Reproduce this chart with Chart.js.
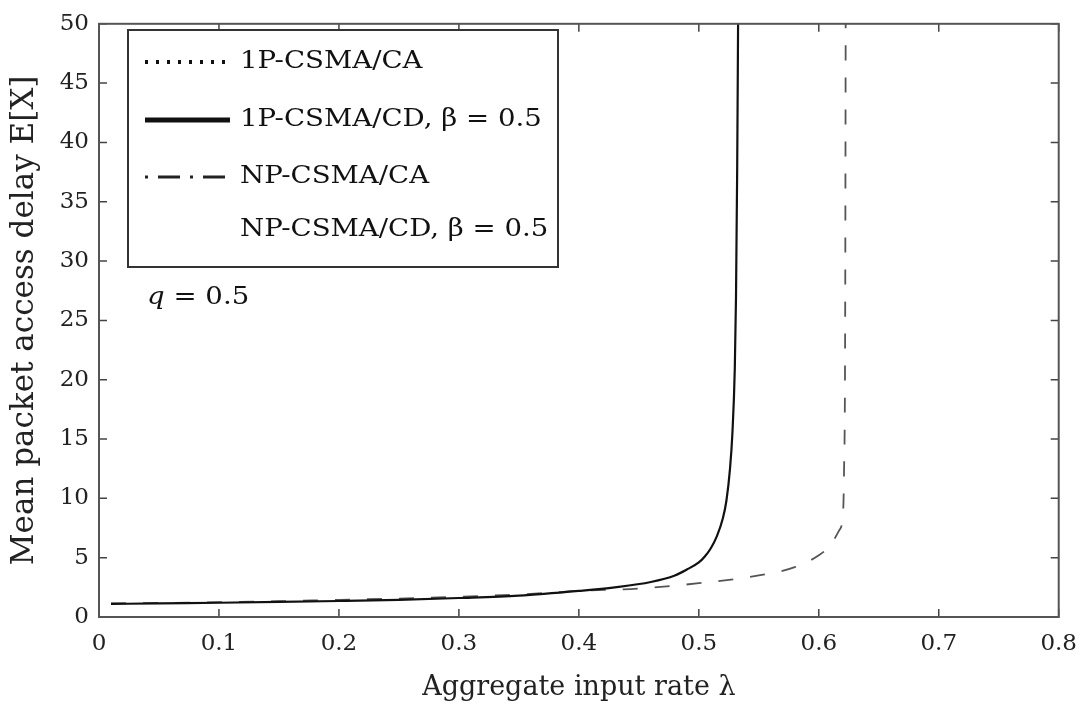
<!DOCTYPE html>
<html>
<head>
<meta charset="utf-8">
<script src="https://cdn.jsdelivr.net/npm/chart.js@4/dist/chart.umd.min.js"></script>
<style>
  html, body { margin: 0; padding: 0; background: #ffffff; }
  #wrap { width: 1090px; height: 707px; position: relative; }
</style>
</head>
<body>
<div id="wrap"><canvas id="c" width="1090" height="707"></canvas></div>
<script>
// ---- data ----
const xTicks = [0, 0.1, 0.2, 0.3, 0.4, 0.5, 0.6, 0.7, 0.8];
const yTicks = [0, 5, 10, 15, 20, 25, 30, 35, 40, 45, 50];

const seriesNames = ["1P-CSMA/CA", "1P-CSMA/CD, \u03B2 = 0.5", "NP-CSMA/CA", "NP-CSMA/CD, \u03B2 = 0.5"];

// 1P-CSMA/CD (solid)
const lambda1PCD = [0.01, 0.05, 0.1, 0.15, 0.2, 0.25, 0.3, 0.35, 0.4, 0.43, 0.46, 0.48, 0.49, 0.5, 0.505, 0.51, 0.515, 0.52, 0.523, 0.526, 0.528, 0.53, 0.531, 0.532, 0.5325, 0.533];
const delay1PCD  = [1.1, 1.15, 1.2, 1.27, 1.35, 1.45, 1.6, 1.8, 2.2, 2.5, 2.95, 3.5, 4.0, 4.6, 5.1, 5.8, 6.8, 8.3, 9.8, 12.5, 15.5, 21, 27, 38, 46, 55];

// NP-CSMA/CD (dashed)
const lambdaNPCD = [0.01, 0.05, 0.1, 0.15, 0.2, 0.25, 0.3, 0.35, 0.4, 0.45, 0.5, 0.55, 0.58, 0.6, 0.61, 0.617, 0.62, 0.621, 0.622, 0.6225];
const delayNPCD  = [1.15, 1.18, 1.25, 1.33, 1.45, 1.55, 1.7, 1.9, 2.2, 2.4, 2.85, 3.5, 4.2, 5.2, 6.1, 7.3, 8.5, 12, 25, 55];

// 1P-CSMA/CA and NP-CSMA/CA: not visible in the plotted region
const lambda1PCA = [];
const delay1PCA = [];
const lambdaNPCA = [];
const delayNPCA = [];

const toPts = (xs, ys) => xs.map((x, i) => ({ x: x, y: ys[i] }));

const FONT = "'DejaVu Serif', 'Liberation Serif', serif";

const frameAndTicks = {
  id: 'frameAndTicks',
  afterDatasetsDraw(chart) {
    const { ctx, chartArea: a, scales } = chart;
    ctx.save();
    ctx.strokeStyle = '#444';
    ctx.lineWidth = 1.5;
    const L = 8;
    scales.x.ticks.forEach(t => {
      const px = scales.x.getPixelForValue(t.value);
      ctx.beginPath();
      ctx.moveTo(px, a.bottom); ctx.lineTo(px, a.bottom - L);
      ctx.moveTo(px, a.top); ctx.lineTo(px, a.top + L);
      ctx.stroke();
    });
    scales.y.ticks.forEach(t => {
      const py = scales.y.getPixelForValue(t.value);
      ctx.beginPath();
      ctx.moveTo(a.left, py); ctx.lineTo(a.left + L, py);
      ctx.moveTo(a.right, py); ctx.lineTo(a.right - L, py);
      ctx.stroke();
    });
    ctx.lineWidth = 2;
    ctx.strokeStyle = '#555';
    ctx.strokeRect(a.left, a.top, a.right - a.left, a.bottom - a.top);
    ctx.restore();
  }
};

const boxLegend = {
  id: 'boxLegend',
  afterDraw(chart) {
    const { ctx } = chart;
    const bx = 128, by = 30, bw = 430, bh = 237;
    ctx.save();
    ctx.fillStyle = '#fff';
    ctx.fillRect(bx, by, bw, bh);
    ctx.strokeStyle = '#333';
    ctx.lineWidth = 2;
    ctx.strokeRect(bx, by, bw, bh);
    const rows = [62, 120, 177, 230];
    chart.data.datasets.forEach((ds, i) => {
      const y = rows[i];
      ctx.save();
      if (ds.legendVisible !== false) {
        ctx.strokeStyle = ds.borderColor;
        ctx.lineWidth = ds.legendWidth || ds.borderWidth;
        ctx.setLineDash(ds.borderDash || []);
        ctx.beginPath();
        ctx.moveTo(145, y);
        ctx.lineTo(230, y);
        ctx.stroke();
      }
      ctx.restore();
      ctx.save();
      ctx.fillStyle = '#111';
      ctx.font = '24px ' + FONT;
      ctx.textBaseline = 'middle';
      ctx.translate(240, y);
      ctx.scale(1.15, 1);
      ctx.fillText(ds.label, 0, 0);
      ctx.restore();
    });
    // q annotation
    ctx.save();
    ctx.fillStyle = '#111';
    ctx.textBaseline = 'middle';
    ctx.translate(147, 298);
    ctx.scale(1.15, 1);
    ctx.font = 'italic 24px ' + FONT;
    ctx.fillText('q', 0, 0);
    const w = ctx.measureText('q ').width;
    ctx.font = '24px ' + FONT;
    ctx.fillText('= 0.5', w, 0);
    ctx.restore();
    ctx.restore();
  }
};

new Chart(document.getElementById('c'), {
  type: 'scatter',
  data: {
    datasets: [
      { label: seriesNames[0], data: toPts(lambda1PCA, delay1PCA), showLine: true, borderColor: '#111', borderWidth: 2, borderDash: [3, 8], legendWidth: 4, pointRadius: 0 },
      { label: seriesNames[1], data: toPts(lambda1PCD, delay1PCD), showLine: true, borderColor: '#111', borderWidth: 2.2, legendWidth: 5, pointRadius: 0, cubicInterpolationMode: 'monotone' },
      { label: seriesNames[2], data: toPts(lambdaNPCA, delayNPCA), showLine: true, borderColor: '#222', borderWidth: 2, borderDash: [3, 10, 22, 10], legendWidth: 3, pointRadius: 0 },
      { label: seriesNames[3], data: toPts(lambdaNPCD, delayNPCD), showLine: true, borderColor: '#555', borderWidth: 1.8, borderDash: [15, 17], legendVisible: false, pointRadius: 0, cubicInterpolationMode: 'monotone' }
    ]
  },
  options: {
    responsive: false,
    animation: false,
    layout: { padding: { top: 20, right: 29, left: 0, bottom: 0 } },
    plugins: { legend: { display: false }, tooltip: { enabled: false } },
    scales: {
      x: {
        type: 'linear', min: 0, max: 0.8,
        afterBuildTicks: s => { s.ticks = xTicks.map(v => ({ value: v })); },
        afterFit: s => { s.height = 90; },
        grid: { display: false, drawTicks: false },
        border: { display: false },
        ticks: {
          padding: 13, color: '#222', font: { family: FONT, size: 23 },
          callback: v => (v === 0 ? '0' : v.toFixed(1))
        },
        title: { display: true, text: 'Aggregate input rate \u03BB', color: '#222', font: { family: FONT, size: 27 }, padding: { top: 0, bottom: 3 } }
      },
      y: {
        type: 'linear', min: 0, max: 50,
        afterBuildTicks: s => { s.ticks = yTicks.map(v => ({ value: v })); },
        afterFit: s => { s.width = 99; },
        grid: { display: false, drawTicks: false },
        border: { display: false },
        ticks: {
          padding: 10, color: '#222', font: { family: FONT, size: 23 },
          callback: v => String(v)
        },
        title: { display: true, text: 'Mean packet access delay E[X]', color: '#222', font: { family: FONT, size: 31 }, padding: { top: 6, bottom: 0 } }
      }
    }
  },
  plugins: [frameAndTicks, boxLegend]
});
</script>
</body>
</html>
